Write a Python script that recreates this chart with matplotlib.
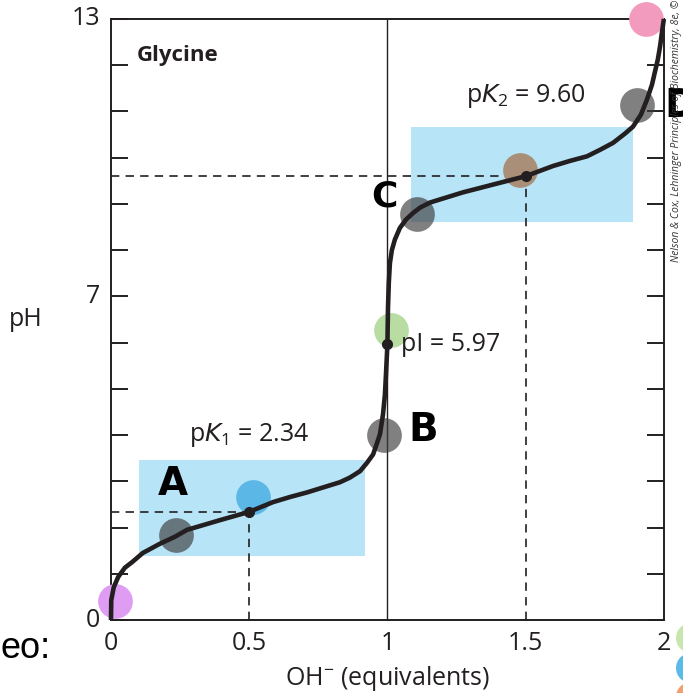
import matplotlib
matplotlib.use("Agg")
import matplotlib.pyplot as plt
from matplotlib.patches import Rectangle, Ellipse

plt.rcParams['font.family'] = ['Open Sans', 'DejaVu Sans']
plt.rcParams['lines.scale_dashes'] = False

# ---- data ----
curve_x = [0.0, 0.001, 0.010, 0.026, 0.050, 0.078, 0.115, 0.177, 0.231, 0.275,
           0.394, 0.5, 0.586, 0.647, 0.709, 0.828, 0.864, 0.901, 0.926, 0.948,
           0.962, 0.973, 0.984, 0.991, 0.995, 1.0, 1.002, 1.005, 1.009, 1.016,
           1.027, 1.045, 1.067, 1.092, 1.118, 1.154, 1.273, 1.396, 1.5, 1.599,
           1.66, 1.722, 1.769, 1.816, 1.859, 1.888, 1.917, 1.939, 1.957, 1.967,
           1.978, 1.986, 1.993, 2.0]
curve_y = [0.0, 0.43, 0.71, 0.93, 1.13, 1.26, 1.45, 1.65, 1.80, 1.95,
           2.16, 2.34, 2.55, 2.66, 2.76, 2.98, 3.08, 3.22, 3.40, 3.58,
           3.82, 4.02, 4.45, 4.88, 5.35, 5.97, 6.75, 7.30, 7.72, 8.00,
           8.23, 8.48, 8.66, 8.80, 8.92, 9.03, 9.25, 9.44, 9.60, 9.82,
           9.93, 10.03, 10.17, 10.32, 10.52, 10.67, 10.93, 11.26, 11.58, 11.84,
           12.12, 12.40, 12.71, 13.0]

pK1, pI, pK2 = 2.34, 5.97, 9.60
key_x = [0.5, 1.0, 1.5]
key_y = [pK1, pI, pK2]

box_x0 = [0.10, 1.085]
box_x1 = [0.92, 1.89]
box_y0 = [1.38, 8.61]
box_y1 = [3.46, 10.67]

marker_x = [0.014, 0.235, 0.514, 0.987, 1.013, 1.107, 1.479, 1.902, 1.935]
marker_y = [0.41, 1.84, 2.66, 4.00, 6.28, 8.79, 9.74, 11.15, 13.0]
marker_colors = ['#de9df3', 'gray', '#5bb8e6', 'gray', '#b8dca2', 'gray',
                 '#a98f77', 'gray', '#f29bbf']

xticks = [0, 0.5, 1, 1.5, 2]
xtick_labels = ['0', '0.5', '1', '1.5', '2']
ytick_labels = {0: '0', 7: '7', 13: '13'}

dark = '#231f20'

fig = plt.figure(figsize=(6.83, 6.93), dpi=100)
ax = fig.add_axes([0.1625, 0.1053, 0.8095, 0.8673])
ax.set_xlim(0, 2)
ax.set_ylim(0, 13)

# buffering regions
for x0, x1, y0, y1 in zip(box_x0, box_x1, box_y0, box_y1):
    ax.add_patch(Rectangle((x0, y0), x1 - x0, y1 - y0, facecolor='#b8e4f8',
                           edgecolor='none', zorder=1))

# dashed guide lines
for kx, ky in [(key_x[0], key_y[0]), (key_x[2], key_y[2])]:
    ax.plot([0, kx], [ky, ky], color=dark, lw=1.2, dashes=(6, 4.5), zorder=2)
    ax.plot([kx, kx], [0, ky], color=dark, lw=1.2, dashes=(6, 4.5), zorder=2)

# equivalence line
ax.plot([1, 1], [0, 13], color=dark, lw=1.0, zorder=2)

# colored circles
for mx, my, mc in zip(marker_x, marker_y, marker_colors):
    if mc == 'gray':
        ax.plot(mx, my, 'o', ms=25, color='#3c3c3c', alpha=0.65, mec='none',
                zorder=3, clip_on=False)
    else:
        ax.plot(mx, my, 'o', ms=25, color=mc, mec='none', zorder=3, clip_on=False)

# titration curve
ax.plot(curve_x, curve_y, color=dark, lw=3.3, zorder=4, solid_capstyle='butt',
        solid_joinstyle='round', clip_on=False)
ax.plot(key_x, key_y, 'o', ms=7, color=dark, zorder=5)

# axes styling
for s in ax.spines.values():
    s.set_color(dark)
    s.set_linewidth(1.4)
ax.set_yticks(range(0, 14))
ax.set_yticklabels([ytick_labels.get(v, '') for v in range(0, 14)])
ax.set_xticks(xticks)
ax.set_xticklabels(xtick_labels)
ax.tick_params(axis='y', which='both', direction='in', length=12, width=1.4,
               color=dark, left=True, right=True, labelsize=18, labelcolor=dark, pad=8)
ax.tick_params(axis='x', length=0, labelsize=18, labelcolor=dark, pad=8)
for lab in ax.get_yticklabels():
    lab.set_verticalalignment('center')

ax.set_xlabel('OH$^{\\mathregular{-}}$ (equivalents)', fontsize=18, color=dark, labelpad=6)
ax.text(-0.155, 0.5, 'pH', transform=ax.transAxes, fontsize=18, color=dark,
        ha='center', va='center')

# annotations
ax.text(0.095, 12.2, 'Glycine', fontsize=16, fontweight='bold', color=dark,
        ha='left', va='center')
ax.text(0.50, 4.0, 'p$\\mathit{K}_{\\mathregular{1}}$ = 2.34', fontsize=18, color=dark,
        ha='center', va='center')
ax.text(1.5, 11.33, 'p$\\mathit{K}_{\\mathregular{2}}$ = 9.60', fontsize=18, color=dark,
        ha='center', va='center')
ax.text(1.05, pI, 'pI = 5.97', fontsize=18, color=dark, ha='left', va='center')

# handwritten letters
ax.text(0.225, 2.95, 'A', fontsize=28, fontweight='bold', color='black',
        ha='center', va='center', family='DejaVu Sans')
ax.text(1.13, 4.1, 'B', fontsize=28, fontweight='bold', color='black',
        ha='center', va='center', family='DejaVu Sans')
ax.text(0.99, 9.15, 'C', fontsize=26, fontweight='bold', color='black',
        ha='center', va='center', family='DejaVu Sans')
fig.text(0.972, 1 - 106 / 693, 'D', fontsize=28, fontweight='bold', color='black',
         ha='left', va='center', family='DejaVu Sans')

# credit text
fig.text(0.991, 1 - 262 / 693,
         'Nelson & Cox, Lehninger Principles of Biochemistry, 8e, \u00a9 2021',
         rotation=90, fontsize=7.5, style='italic', color='#333333',
         ha='center', va='bottom')

# screenshot fragments
fig.text(0.0, 1 - 648 / 693, 'eo:', fontsize=26, color='black', ha='left',
         va='center', family='Liberation Sans')
for cy, cc in [(638, '#c7e6ad'), (668, '#5bbbe8'), (697, '#f0a070')]:
    fig.add_artist(Ellipse((1.0 + 8 / 683, 1 - cy / 693), 30 / 683, 30 / 693,
                           facecolor=cc, edgecolor='none'))

fig.savefig('out.png', dpi=100)
